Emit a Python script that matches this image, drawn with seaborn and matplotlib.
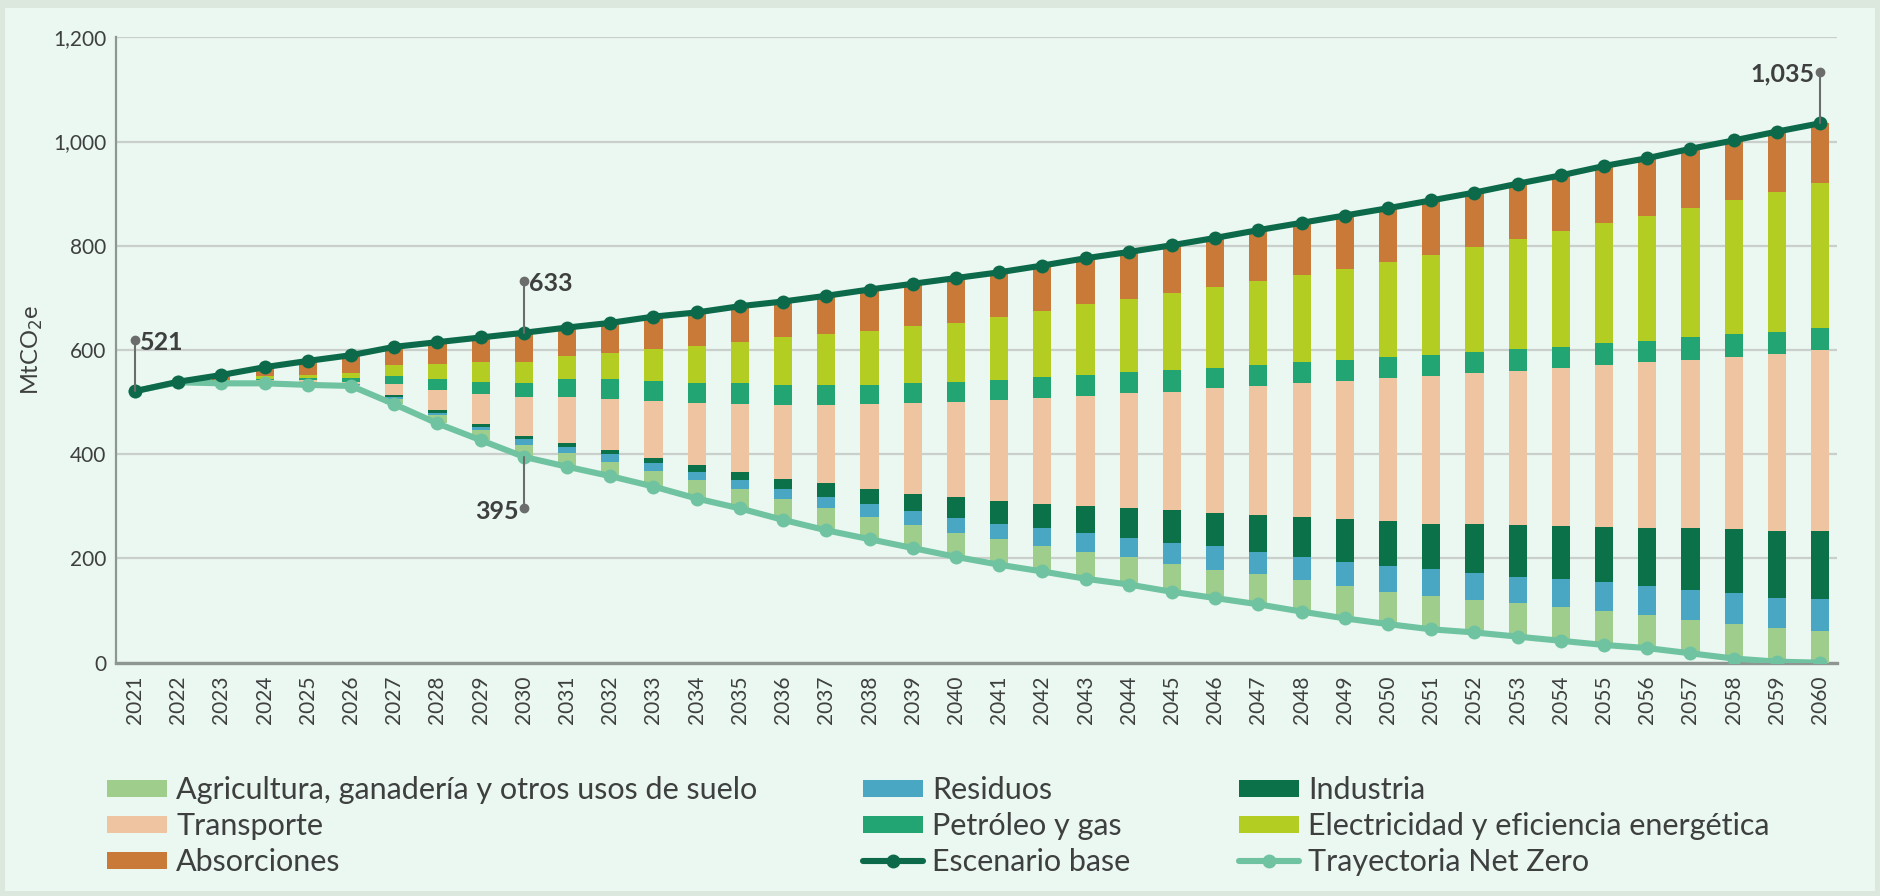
import matplotlib
matplotlib.use('Agg')
import matplotlib.pyplot as plt
import seaborn as sns
from matplotlib.patches import Patch, Rectangle
from matplotlib.lines import Line2D

# --- datos (MtCO2e) ---
years = list(range(2021, 2061))

escenario_base = [521, 539, 552, 567, 579, 590, 606, 615, 624, 633,
                  643, 652, 664, 672, 684, 693, 704, 716, 727, 738,
                  749, 762, 776, 788, 801, 815, 830, 844, 858, 872,
                  887, 902, 919, 935, 953, 968, 986, 1002, 1019, 1035]

net_zero = [521, 538, 536, 536, 533, 531, 496, 459, 427, 395,
            376, 358, 338, 315, 296, 274, 254, 237, 220, 203,
            188, 175, 161, 150, 136, 124, 112, 98, 85, 74,
            64, 58, 50, 42, 34, 28, 18, 8, 2, 0]

agricultura = [0, 0, 0, 1, 2, 2, 9, 16, 19, 23,
               26, 28, 30, 36, 37, 40, 42, 43, 44, 46,
               49, 49, 52, 52, 53, 54, 58, 61, 63, 62,
               63, 62, 64, 65, 65, 64, 64, 66, 64, 61]
residuos = [0, 0, 0, 1, 1, 1, 4, 5, 7, 11,
            11, 14, 15, 14, 18, 19, 22, 24, 27, 28,
            30, 34, 36, 37, 41, 45, 43, 43, 46, 50,
            52, 53, 51, 53, 55, 56, 57, 59, 59, 61]
industria = [0, 0, 0, 0, 1, 0, 5, 5, 5, 5,
             8, 8, 10, 14, 14, 19, 26, 29, 33, 40,
             44, 46, 52, 57, 63, 64, 70, 77, 81, 85,
             88, 93, 99, 102, 107, 111, 119, 123, 128, 131]
transporte = [0, 0, 2, 4, 5, 5, 21, 38, 58, 76,
              88, 97, 110, 120, 131, 142, 150, 163, 174, 184,
              193, 203, 211, 221, 227, 240, 247, 257, 265, 276,
              284, 290, 296, 303, 310, 317, 323, 331, 339, 347]
petroleo_gas = [0, 0, 2, 3, 4, 7, 15, 21, 23, 26,
                35, 39, 38, 38, 40, 39, 39, 37, 38, 38,
                38, 41, 40, 40, 42, 39, 41, 40, 41, 40,
                39, 41, 41, 40, 42, 42, 43, 43, 42, 42]
electricidad = [0, 0, 3, 6, 6, 10, 21, 30, 37, 40,
                44, 51, 60, 71, 80, 91, 97, 103, 110, 113,
                122, 127, 136, 141, 147, 155, 161, 168, 174, 182,
                192, 201, 211, 223, 230, 239, 248, 258, 269, 279]
absorciones = [0, 1, 9, 16, 27, 34, 35, 41, 48, 57,
               55, 57, 63, 64, 68, 69, 74, 80, 81, 86,
               85, 87, 88, 90, 92, 94, 98, 100, 103, 103,
               105, 104, 107, 107, 110, 111, 114, 114, 116, 114]

sectores = [
    ('Agricultura, ganadería y otros usos de suelo', agricultura, '#9fcd8c'),
    ('Residuos', residuos, '#4aa7c4'),
    ('Industria', industria, '#0b7149'),
    ('Transporte', transporte, '#eec5a0'),
    ('Petróleo y gas', petroleo_gas, '#22a473'),
    ('Electricidad y eficiencia energética', electricidad, '#b3cd22'),
    ('Absorciones', absorciones, '#c97a39'),
]

c_base = '#0c6a4a'
c_nz = '#6fc3a1'
c_text = '#3e4040'
bg_outer = '#dce8dd'
bg_inner = '#ebf7f1'

# --- estilo ---
sns.set_theme(style='white')
plt.rcParams['font.family'] = ['Lato', 'DejaVu Sans']

fig = plt.figure(figsize=(18.8, 8.96), dpi=100, facecolor=bg_outer)
fig.patches.append(Rectangle((5 / 1880, 5 / 896), 1 - 10 / 1880, 1 - 13 / 896,
                             transform=fig.transFigure, facecolor=bg_inner,
                             edgecolor='none', zorder=-10))
ax = fig.add_axes([0.0617, 0.2604, 0.9154, 0.698])
ax.set_facecolor('none')

# barras apiladas desde la trayectoria net zero
bottom = list(net_zero)
for nombre, valores, color in sectores:
    ax.bar(years, valores, bottom=bottom, width=0.42, color=color,
           linewidth=0, zorder=2)
    bottom = [b + v for b, v in zip(bottom, valores)]

# líneas
sns.lineplot(x=years, y=net_zero, ax=ax, color=c_nz, linewidth=4.4,
             marker='o', markersize=10, markeredgewidth=0, zorder=4)
sns.lineplot(x=years, y=escenario_base, ax=ax, color=c_base, linewidth=4.4,
             marker='o', markersize=10, markeredgewidth=0, zorder=5)

# ejes
ax.set_xlim(2020.56, 2060.39)
ax.set_ylim(0, 1200)
ax.set_yticks(range(0, 1201, 200))
ax.set_yticklabels([f'{v:,}' for v in range(0, 1201, 200)])
ax.set_xticks(years)
ax.set_xticklabels([str(y) for y in years], rotation=90)
ax.tick_params(axis='both', length=0, labelsize=15, colors=c_text)
ax.tick_params(axis='y', pad=7)
ax.tick_params(axis='x', pad=9)
ax.grid(axis='y', color='#c9d0cc', linewidth=1.6, zorder=0)
ax.set_axisbelow(True)
for s in ['top', 'right']:
    ax.spines[s].set_visible(False)
ax.spines['left'].set_color('#8d9691')
ax.spines['left'].set_linewidth(1.6)
ax.spines['bottom'].set_color('#8d9691')
ax.spines['bottom'].set_linewidth(2.4)
ax.spines['bottom'].set_zorder(1)
ax.set_ylabel('MtCO$_2$e', fontsize=17, color=c_text, labelpad=6)

# anotaciones
def anotar(x, y0, y1, texto, lado):
    ax.plot([x, x], [y0, y1], color='#6a6d6c', linewidth=1.5, zorder=6)
    ax.plot([x], [y1], 'o', color='#6a6d6c', markersize=6, zorder=6)
    if lado == 'der':
        ax.text(x + 0.12, y1 - 5, texto, ha='left', va='center', fontsize=18,
                fontweight='bold', color=c_text, zorder=7)
    else:
        ax.text(x - 0.12, y1 - 5, texto, ha='right', va='center', fontsize=18,
                fontweight='bold', color=c_text, zorder=7)

anotar(2021, escenario_base[0], 620, '521', 'der')
anotar(2030, escenario_base[9], 732, '633', 'der')
anotar(2030, net_zero[9], 296, '395', 'izq')
anotar(2060, escenario_base[-1], 1134, '1,035', 'izq')

# leyenda en tres columnas
def h_patch(color):
    return Patch(facecolor=color, edgecolor='none')

def h_line(color):
    return Line2D([], [], color=color, linewidth=4.4, marker='o', markersize=9)

cols = [
    ([h_patch(sectores[0][2]), h_patch(sectores[3][2]), h_patch(sectores[6][2])],
     [sectores[0][0], sectores[3][0], sectores[6][0]], 92 / 1880),
    ([h_patch(sectores[1][2]), h_patch(sectores[4][2]), h_line(c_base)],
     [sectores[1][0], sectores[4][0], 'Escenario base'], 848 / 1880),
    ([h_patch(sectores[2][2]), h_patch(sectores[5][2]), h_line(c_nz)],
     [sectores[2][0], sectores[5][0], 'Trayectoria Net Zero'], 1224 / 1880),
]
for handles, labels, x0 in cols:
    leg = fig.legend(handles, labels, loc='upper left',
                     bbox_to_anchor=(x0, 1 - 761 / 896), frameon=False,
                     fontsize=22, handlelength=1.95, handleheight=0.5,
                     handletextpad=0.3, labelspacing=0.26, borderpad=0,
                     labelcolor=c_text)

fig.savefig('out.png', dpi=100, facecolor=fig.get_facecolor())
